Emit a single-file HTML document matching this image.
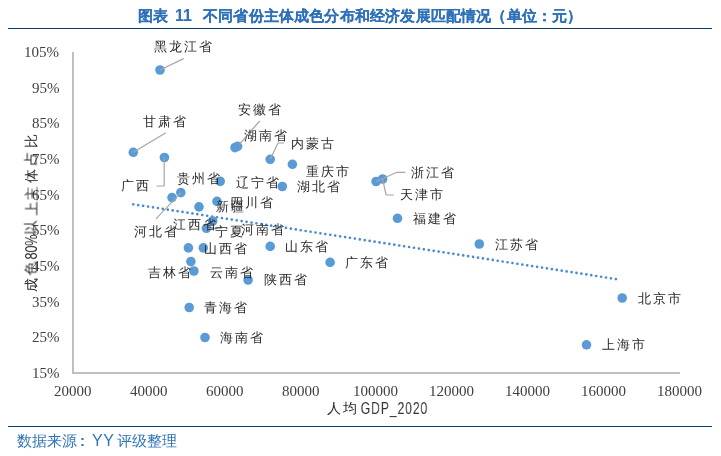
<!DOCTYPE html>
<html><head><meta charset="utf-8"><title>chart</title>
<style>
html,body{margin:0;padding:0;background:#fff}
body{width:721px;height:456px;overflow:hidden;position:relative}
svg{position:absolute;left:0;top:0}
.t{position:absolute;white-space:nowrap;line-height:1;will-change:transform}
</style></head><body>
<svg width="721" height="456" viewBox="0 0 721 456">
<rect x="8" y="28" width="704" height="1" fill="#0d3a69"/>
<rect x="8" y="426" width="704" height="1" fill="#0d3a69"/>
<rect x="72" y="52" width="2" height="322" fill="#bfbfbf"/>
<rect x="72" y="372" width="608" height="2" fill="#bfbfbf"/>
<line x1="133.3" y1="204.3" x2="620.8" y2="279.8" stroke="#4a8bd0" stroke-width="2.7" stroke-linecap="round" stroke-dasharray="0 4.983"/>
<circle cx="188.4" cy="247.9" r="4.8" fill="#5b9bd5"/>
<circle cx="203.3" cy="247.9" r="4.8" fill="#5b9bd5"/>
<circle cx="190.9" cy="261.6" r="4.8" fill="#5b9bd5"/>
<circle cx="193.9" cy="271" r="4.8" fill="#5b9bd5"/>
<circle cx="189.2" cy="307.5" r="4.8" fill="#5b9bd5"/>
<circle cx="205" cy="337.5" r="4.8" fill="#5b9bd5"/>
<circle cx="206.4" cy="228.3" r="4.8" fill="#5b9bd5"/>
<circle cx="212.7" cy="221" r="4.8" fill="#5b9bd5"/>
<circle cx="217" cy="201.4" r="4.8" fill="#5b9bd5"/>
<circle cx="199" cy="206.9" r="4.8" fill="#5b9bd5"/>
<circle cx="220.2" cy="181.4" r="4.8" fill="#5b9bd5"/>
<circle cx="172" cy="197.6" r="4.8" fill="#5b9bd5"/>
<circle cx="180.8" cy="192.6" r="4.8" fill="#5b9bd5"/>
<circle cx="164.4" cy="157.5" r="4.8" fill="#5b9bd5"/>
<circle cx="133.3" cy="152.3" r="4.8" fill="#5b9bd5"/>
<circle cx="160" cy="70" r="4.8" fill="#5b9bd5"/>
<circle cx="235" cy="147.6" r="4.8" fill="#5b9bd5"/>
<circle cx="237.6" cy="146.3" r="4.8" fill="#5b9bd5"/>
<circle cx="270.2" cy="159.3" r="4.8" fill="#5b9bd5"/>
<circle cx="292.4" cy="164.3" r="4.8" fill="#5b9bd5"/>
<circle cx="282.3" cy="186.5" r="4.8" fill="#5b9bd5"/>
<circle cx="270.2" cy="246.4" r="4.8" fill="#5b9bd5"/>
<circle cx="248.1" cy="280" r="4.8" fill="#5b9bd5"/>
<circle cx="330.1" cy="262.4" r="4.8" fill="#5b9bd5"/>
<circle cx="376.1" cy="181.5" r="4.8" fill="#5b9bd5"/>
<circle cx="382.6" cy="179" r="4.8" fill="#5b9bd5"/>
<circle cx="397.5" cy="218.3" r="4.8" fill="#5b9bd5"/>
<circle cx="479.3" cy="244" r="4.8" fill="#5b9bd5"/>
<circle cx="622.2" cy="298" r="4.8" fill="#5b9bd5"/>
<circle cx="586.5" cy="344.8" r="4.8" fill="#5b9bd5"/>
<path d="M160,70 L183.6,58.6" fill="none" stroke="#a6a6a6" stroke-width="1.2"/>
<path d="M133.3,152.3 L165.8,132.8" fill="none" stroke="#a6a6a6" stroke-width="1.2"/>
<path d="M164.2,157.5 L164.2,186 L156.5,186" fill="none" stroke="#a6a6a6" stroke-width="1.2"/>
<path d="M180.8,192.6 L156,218.8" fill="none" stroke="#a6a6a6" stroke-width="1.2"/>
<path d="M239.3,144.3 L259.8,120.9" fill="none" stroke="#a6a6a6" stroke-width="1.2"/>
<path d="M270.2,159.3 L278,143 L284,143" fill="none" stroke="#a6a6a6" stroke-width="1.2"/>
<path d="M376.1,181.5 L396.8,172.3 L405.3,172.3" fill="none" stroke="#a6a6a6" stroke-width="1.2"/>
<path d="M382.6,179 L386.1,195 L393.8,195" fill="none" stroke="#a6a6a6" stroke-width="1.2"/>
<path d="M206.4,228.4 L221.7,228.4" fill="none" stroke="#a6a6a6" stroke-width="1.2"/>
</svg>
<div id="title1" class="t" style="left:137.50px;top:7.80px;font-family:'Liberation Sans',sans-serif;font-size:15px;font-weight:bold;color:#2e71b9;-webkit-text-stroke:0.1px #2e71b9">图表</div>
<div id="title2" class="t" style="left:174.75px;top:8.00px;font-family:'Liberation Sans',sans-serif;font-size:16px;font-weight:bold;color:#2e71b9;-webkit-text-stroke:0.1px #2e71b9">11</div>
<div id="title3" class="t" style="left:202.75px;top:7.70px;font-family:'Liberation Sans',sans-serif;font-size:15px;letter-spacing:0.18px;font-weight:bold;color:#2e71b9;-webkit-text-stroke:0.1px #2e71b9">不同省份主体成色分布和经济发展匹配情况（单位：元）</div>
<div id="src1" class="t" style="left:16.70px;top:433.10px;font-family:'Liberation Sans',sans-serif;font-size:15px;color:#2e75b6">数据来源</div>
<div id="src2" class="t" style="left:80.00px;top:432.65px;font-family:'Liberation Sans',sans-serif;font-size:15px;font-weight:bold;color:#2e75b6">:</div>
<div id="src3" class="t" style="left:91.95px;top:433.10px;font-family:'Liberation Sans',sans-serif;font-size:16px;letter-spacing:0.5px;color:#2e75b6">YY</div>
<div id="src4" class="t" style="left:117.00px;top:432.60px;font-family:'Liberation Sans',sans-serif;font-size:15px;color:#2e75b6">评级整理</div>
<div id="y0" class="t" style="left:24.40px;top:45.10px;font-size:15px;color:#404040;font-family:'Liberation Serif',serif">105%</div>
<div id="y1" class="t" style="left:32.40px;top:80.77px;font-size:15px;color:#404040;font-family:'Liberation Serif',serif">95%</div>
<div id="y2" class="t" style="left:32.40px;top:116.44px;font-size:15px;color:#404040;font-family:'Liberation Serif',serif">85%</div>
<div id="y3" class="t" style="left:32.40px;top:152.11px;font-size:15px;color:#404040;font-family:'Liberation Serif',serif">75%</div>
<div id="y4" class="t" style="left:32.40px;top:187.78px;font-size:15px;color:#404040;font-family:'Liberation Serif',serif">65%</div>
<div id="y5" class="t" style="left:32.40px;top:223.45px;font-size:15px;color:#404040;font-family:'Liberation Serif',serif">55%</div>
<div id="y6" class="t" style="left:32.40px;top:259.12px;font-size:15px;color:#404040;font-family:'Liberation Serif',serif">45%</div>
<div id="y7" class="t" style="left:32.40px;top:294.79px;font-size:15px;color:#404040;font-family:'Liberation Serif',serif">35%</div>
<div id="y8" class="t" style="left:32.40px;top:330.46px;font-size:15px;color:#404040;font-family:'Liberation Serif',serif">25%</div>
<div id="y9" class="t" style="left:32.40px;top:366.13px;font-size:15px;color:#404040;font-family:'Liberation Serif',serif">15%</div>
<div id="x0" class="t" style="left:54.10px;top:384.00px;font-size:15px;color:#404040;font-family:'Liberation Serif',serif">20000</div>
<div id="x1" class="t" style="left:130.03px;top:384.00px;font-size:15px;color:#404040;font-family:'Liberation Serif',serif">40000</div>
<div id="x2" class="t" style="left:205.96px;top:384.00px;font-size:15px;color:#404040;font-family:'Liberation Serif',serif">60000</div>
<div id="x3" class="t" style="left:281.89px;top:384.00px;font-size:15px;color:#404040;font-family:'Liberation Serif',serif">80000</div>
<div id="x4" class="t" style="left:353.32px;top:384.00px;font-size:15px;color:#404040;font-family:'Liberation Serif',serif">100000</div>
<div id="x5" class="t" style="left:429.25px;top:384.00px;font-size:15px;color:#404040;font-family:'Liberation Serif',serif">120000</div>
<div id="x6" class="t" style="left:505.18px;top:384.00px;font-size:15px;color:#404040;font-family:'Liberation Serif',serif">140000</div>
<div id="x7" class="t" style="left:581.11px;top:384.00px;font-size:15px;color:#404040;font-family:'Liberation Serif',serif">160000</div>
<div id="x8" class="t" style="left:657.04px;top:384.00px;font-size:15px;color:#404040;font-family:'Liberation Serif',serif">180000</div>
<div id="xtitle1" class="t" style="left:326.50px;top:402.10px;font-family:'Liberation Serif',serif;font-size:13.5px;letter-spacing:2px;color:#2a2a2a">人均</div>
<div id="xtitle2" class="t" style="left:348.50px;top:399.65px;font-family:'Liberation Sans',sans-serif;font-size:16.5px;letter-spacing:1.2px;color:#333;transform-origin:45.00px 10.00px;transform:scaleX(0.74)">GDP_2020</div>
<div id="l0" class="t" style="left:153.75px;top:40.15px;font-family:'Liberation Serif',serif;font-size:13px;letter-spacing:2px;color:#2a2a2a">黑龙江省</div>
<div id="l1" class="t" style="left:143.40px;top:114.80px;font-family:'Liberation Serif',serif;font-size:13px;letter-spacing:2px;color:#2a2a2a">甘肃省</div>
<div id="l2" class="t" style="left:121.00px;top:178.50px;font-family:'Liberation Serif',serif;font-size:13px;letter-spacing:2px;color:#2a2a2a">广西</div>
<div id="l3" class="t" style="left:176.65px;top:171.80px;font-family:'Liberation Serif',serif;font-size:13px;letter-spacing:2px;color:#2a2a2a">贵州省</div>
<div id="l4" class="t" style="left:133.95px;top:224.60px;font-family:'Liberation Serif',serif;font-size:13px;letter-spacing:2px;color:#2a2a2a">河北省</div>
<div id="l5" class="t" style="left:236.25px;top:175.85px;font-family:'Liberation Serif',serif;font-size:13px;letter-spacing:2px;color:#2a2a2a">辽宁省</div>
<div id="l6" class="t" style="left:230.30px;top:195.50px;font-family:'Liberation Serif',serif;font-size:13px;letter-spacing:2px;color:#2a2a2a">四川省</div>
<div id="l7" class="t" style="left:216.00px;top:200.35px;font-family:'Liberation Serif',serif;font-size:13px;letter-spacing:2px;color:#2a2a2a">新疆</div>
<div id="l8" class="t" style="left:172.60px;top:217.75px;font-family:'Liberation Serif',serif;font-size:13px;letter-spacing:2px;color:#2a2a2a">江西省</div>
<div id="l9" class="t" style="left:214.80px;top:225.20px;font-family:'Liberation Serif',serif;font-size:13px;letter-spacing:2px;color:#2a2a2a">宁夏</div>
<div id="l10" class="t" style="left:241.10px;top:222.50px;font-family:'Liberation Serif',serif;font-size:13px;letter-spacing:2px;color:#2a2a2a">河南省</div>
<div id="l11" class="t" style="left:204.00px;top:242.35px;font-family:'Liberation Serif',serif;font-size:13px;letter-spacing:2px;color:#2a2a2a">山西省</div>
<div id="l12" class="t" style="left:148.45px;top:265.70px;font-family:'Liberation Serif',serif;font-size:13px;letter-spacing:2px;color:#2a2a2a">吉林省</div>
<div id="l13" class="t" style="left:209.70px;top:265.50px;font-family:'Liberation Serif',serif;font-size:13px;letter-spacing:2px;color:#2a2a2a">云南省</div>
<div id="l14" class="t" style="left:263.65px;top:273.10px;font-family:'Liberation Serif',serif;font-size:13px;letter-spacing:2px;color:#2a2a2a">陕西省</div>
<div id="l15" class="t" style="left:204.30px;top:301.15px;font-family:'Liberation Serif',serif;font-size:13px;letter-spacing:2px;color:#2a2a2a">青海省</div>
<div id="l16" class="t" style="left:220.10px;top:331.20px;font-family:'Liberation Serif',serif;font-size:13px;letter-spacing:2px;color:#2a2a2a">海南省</div>
<div id="l17" class="t" style="left:238.05px;top:102.60px;font-family:'Liberation Serif',serif;font-size:13px;letter-spacing:2px;color:#2a2a2a">安徽省</div>
<div id="l18" class="t" style="left:244.35px;top:129.35px;font-family:'Liberation Serif',serif;font-size:13px;letter-spacing:2px;color:#2a2a2a">湖南省</div>
<div id="l19" class="t" style="left:290.65px;top:137.20px;font-family:'Liberation Serif',serif;font-size:13px;letter-spacing:2px;color:#2a2a2a">内蒙古</div>
<div id="l20" class="t" style="left:305.65px;top:164.70px;font-family:'Liberation Serif',serif;font-size:13px;letter-spacing:2px;color:#2a2a2a">重庆市</div>
<div id="l21" class="t" style="left:297.35px;top:180.05px;font-family:'Liberation Serif',serif;font-size:13px;letter-spacing:2px;color:#2a2a2a">湖北省</div>
<div id="l22" class="t" style="left:410.85px;top:165.90px;font-family:'Liberation Serif',serif;font-size:13px;letter-spacing:2px;color:#2a2a2a">浙江省</div>
<div id="l23" class="t" style="left:399.75px;top:188.45px;font-family:'Liberation Serif',serif;font-size:13px;letter-spacing:2px;color:#2a2a2a">天津市</div>
<div id="l24" class="t" style="left:412.50px;top:211.65px;font-family:'Liberation Serif',serif;font-size:13px;letter-spacing:2px;color:#2a2a2a">福建省</div>
<div id="l25" class="t" style="left:284.60px;top:239.80px;font-family:'Liberation Serif',serif;font-size:13px;letter-spacing:2px;color:#2a2a2a">山东省</div>
<div id="l26" class="t" style="left:345.20px;top:255.75px;font-family:'Liberation Serif',serif;font-size:13px;letter-spacing:2px;color:#2a2a2a">广东省</div>
<div id="l27" class="t" style="left:495.10px;top:238.30px;font-family:'Liberation Serif',serif;font-size:13px;letter-spacing:2px;color:#2a2a2a">江苏省</div>
<div id="l28" class="t" style="left:637.80px;top:292.35px;font-family:'Liberation Serif',serif;font-size:13px;letter-spacing:2px;color:#2a2a2a">北京市</div>
<div id="l29" class="t" style="left:602.45px;top:338.00px;font-family:'Liberation Serif',serif;font-size:13px;letter-spacing:2px;color:#2a2a2a">上海市</div>
<div class="t" style="left:23.70px;top:278.90px;transform-origin:7.00px 6.00px;transform:rotate(-90deg);font-family:'Liberation Serif',serif;font-size:13.5px;color:#2a2a2a">成</div>
<div class="t" style="left:23.70px;top:262.10px;transform-origin:7.00px 6.50px;transform:rotate(-90deg);font-family:'Liberation Serif',serif;font-size:13.5px;color:#2a2a2a">色</div>
<div class="t" style="left:14.70px;top:239.60px;transform-origin:16.00px 7.00px;transform:rotate(-90deg) scaleX(0.78);font-family:'Liberation Sans',sans-serif;font-size:16px;color:#2a2a2a">80%</div>
<div class="t" style="left:23.20px;top:220.70px;transform-origin:7.50px 6.00px;transform:rotate(-90deg);font-family:'Liberation Serif',serif;font-size:13.5px;color:#2a2a2a">以</div>
<div class="t" style="left:23.70px;top:202.95px;transform-origin:7.00px 5.50px;transform:rotate(-90deg);font-family:'Liberation Serif',serif;font-size:13.5px;color:#2a2a2a">上</div>
<div class="t" style="left:23.70px;top:187.55px;transform-origin:7.00px 5.50px;transform:rotate(-90deg);font-family:'Liberation Serif',serif;font-size:13.5px;color:#2a2a2a">主</div>
<div class="t" style="left:23.70px;top:169.80px;transform-origin:7.00px 6.00px;transform:rotate(-90deg);font-family:'Liberation Serif',serif;font-size:13.5px;color:#2a2a2a">体</div>
<div class="t" style="left:24.20px;top:152.50px;transform-origin:6.50px 6.00px;transform:rotate(-90deg);font-family:'Liberation Serif',serif;font-size:13.5px;color:#2a2a2a">占</div>
<div class="t" style="left:23.70px;top:135.10px;transform-origin:7.00px 6.00px;transform:rotate(-90deg);font-family:'Liberation Serif',serif;font-size:13.5px;color:#2a2a2a">比</div>
</body></html>
